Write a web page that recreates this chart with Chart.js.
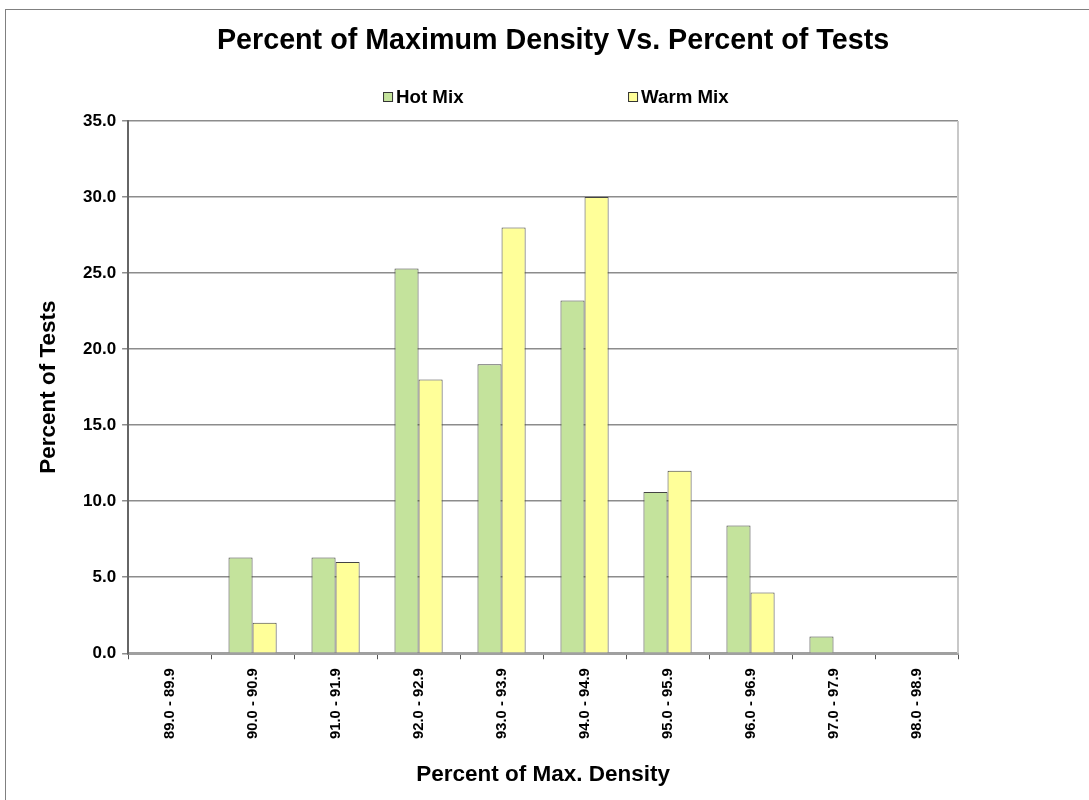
<!DOCTYPE html>
<html>
<head>
<meta charset="utf-8">
<script src="https://cdn.jsdelivr.net/npm/chart.js@4"></script>
<style>
    body { margin: 0; background: #fff; }
    #frame { position: absolute; left: 5px; top: 9px; width: 1100px; height: 800px; border: 1px solid #808080; }
    #wrap { position: absolute; left: 0; top: 0; width: 1089px; height: 800px; }
</style>
</head>
<body>
<div id="frame"></div>
<div id="wrap"><canvas id="chart"></canvas></div>
<script>
const categories = ['89.0 - 89.9', '90.0 - 90.9', '91.0 - 91.9', '92.0 - 92.9', '93.0 - 93.9',
    '94.0 - 94.9', '95.0 - 95.9', '96.0 - 96.9', '97.0 - 97.9', '98.0 - 98.9'];
const hotMix = [0, 6.3, 6.3, 25.3, 19.0, 23.2, 10.6, 8.4, 1.1, 0];
const warmMix = [0, 2.0, 6.0, 18.0, 28.0, 30.0, 12.0, 4.0, 0, 0];
const yTicks = [0, 5, 10, 15, 20, 25, 30, 35];
const chartTitle = 'Percent of Maximum Density Vs. Percent of Tests';

const FONT = "'Liberation Sans', Arial, sans-serif";

// title and legend drawn by hand so they sit where the original put them
const headerBlock = {
    id: 'headerBlock',
    afterDraw(chart) {
        const ctx = chart.ctx;
        const a = chart.chartArea;
        const mid = (a.left + a.right) / 2 + 10;
        ctx.save();
        ctx.fillStyle = '#000';
        ctx.font = 'bold 28.7px ' + FONT;
        ctx.textAlign = 'center';
        ctx.textBaseline = 'middle';
        ctx.fillText(chartTitle, mid, 41);

        const sets = chart.data.datasets;
        const gap = 245;
        const startX = mid - 170;
        const y = 97;
        ctx.font = 'bold 18.7px ' + FONT;
        ctx.textAlign = 'left';
        sets.forEach((ds, i) => {
            const x = startX + i * gap;
            ctx.fillStyle = ds.backgroundColor;
            ctx.fillRect(x, y - 5, 10, 10);
            ctx.strokeStyle = '#333';
            ctx.lineWidth = 1;
            ctx.strokeRect(x + 0.5, y - 4.5, 9, 9);
            ctx.fillStyle = '#000';
            ctx.fillText(ds.label, x + 13, y + 1);
        });
        ctx.restore();
    }
};

const rightBorder = {
    id: 'rightBorder',
    afterDatasetsDraw(chart) {
        const a = chart.chartArea;
        const ctx = chart.ctx;
        ctx.save();
        ctx.strokeStyle = '#c8c8c8';
        ctx.lineWidth = 2;
        ctx.beginPath();
        ctx.moveTo(a.right, a.top);
        ctx.lineTo(a.right, a.bottom);
        ctx.stroke();
        ctx.restore();
    }
};

new Chart(document.getElementById('chart'), {
    type: 'bar',
    data: {
        labels: categories,
        datasets: [{
            label: 'Hot Mix',
            data: hotMix,
            backgroundColor: '#c4e39c',
            borderColor: '#444',
            borderWidth: 1
        }, {
            label: 'Warm Mix',
            data: warmMix,
            backgroundColor: '#ffff99',
            borderColor: '#444',
            borderWidth: 1
        }]
    },
    options: {
        responsive: true,
        maintainAspectRatio: false,
        animation: false,
        categoryPercentage: 0.58,
        barPercentage: 1.0,
        layout: { padding: { left: 25, right: 131, top: 121, bottom: 5 } },
        plugins: {
            legend: { display: false },
            tooltip: { enabled: false },
            title: { display: false }
        },
        scales: {
            x: {
                grid: {
                    offset: true,
                    drawOnChartArea: false,
                    drawTicks: true,
                    tickLength: 6,
                    color: '#555'
                },
                border: { color: '#a0a0a0', width: 3 },
                ticks: {
                    color: '#000',
                    minRotation: 90,
                    maxRotation: 90,
                    padding: 9,
                    font: { family: FONT, size: 14.8, weight: 'bold' }
                },
                title: {
                    display: true,
                    text: 'Percent of Max. Density',
                    color: '#000',
                    font: { family: FONT, size: 22.5, weight: 'bold' },
                    padding: { top: 13, bottom: 7 }
                }
            },
            y: {
                min: 0,
                max: 35,
                afterBuildTicks(axis) {
                    axis.ticks = yTicks.map(v => ({ value: v }));
                },
                grid: {
                    color: '#8c8c8c',
                    lineWidth: 1.5,
                    tickLength: 6
                },
                border: { color: '#666', width: 2 },
                ticks: {
                    color: '#000',
                    padding: 6,
                    font: { family: FONT, size: 17, weight: 'bold' },
                    callback: v => v.toFixed(1)
                },
                title: {
                    display: true,
                    text: 'Percent of Tests',
                    color: '#000',
                    font: { family: FONT, size: 22.5, weight: 'bold' },
                    padding: { top: 10, bottom: 15 }
                }
            }
        }
    },
    plugins: [headerBlock, rightBorder]
});
</script>
</body>
</html>
